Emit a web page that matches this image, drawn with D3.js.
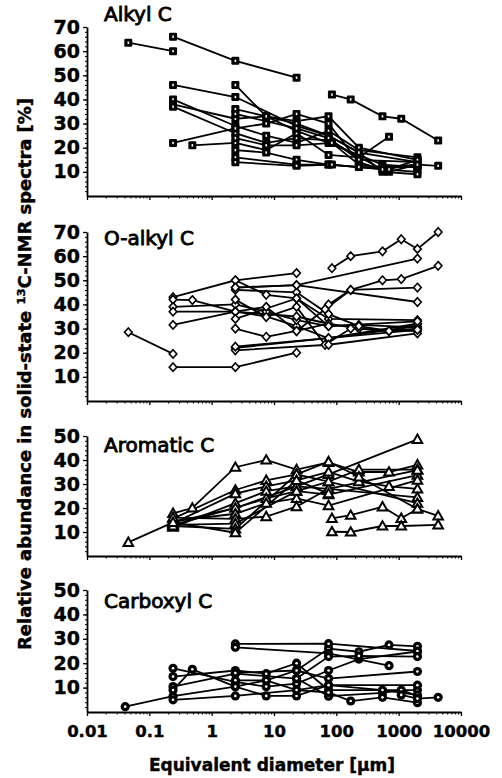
<!DOCTYPE html>
<html>
<head>
<meta charset="utf-8">
<script src="https://cdn.jsdelivr.net/npm/d3@7"></script>
<style>
  body { margin: 0; background: #fff; }
  svg { display: block; }
  text { font-family: "DejaVu Sans", sans-serif; fill: #000; }
</style>
</head>
<body>
<div id="chart"></div>
<script>
// equivalent diameter [µm] vs relative abundance [%], one array per C group, one inner array per study/soil
let alkyl = [
  [[0.046, 63.5], [0.24, 60]],
  [[0.24, 66], [2.4, 56], [23, 49]],
  [[0.24, 46], [2.4, 41], [23, 29], [75, 25], [230, 18], [2000, 14]],
  [[2.4, 46], [7.5, 33], [23, 27], [75, 22], [550, 13], [2000, 12]],
  [[0.24, 40], [2.4, 29], [7.5, 25], [23, 22], [75, 27], [230, 19], [2000, 16]],
  [[0.24, 38], [2.4, 32], [7.5, 33], [23, 31], [75, 33], [230, 20], [2000, 15]],
  [[0.24, 37], [2.4, 26], [7.5, 22], [23, 24], [75, 23], [550, 11], [2000, 10]],
  [[0.24, 22], [2.4, 28], [7.5, 30], [23, 34], [75, 30], [230, 14], [700, 10], [2000, 13]],
  [[0.49, 21], [2.4, 22], [7.5, 19], [23, 26], [75, 17], [230, 16], [700, 24.5]],
  [[2.4, 36], [7.5, 33], [23, 30], [75, 25], [230, 18], [550, 10], [2000, 9]],
  [[2.4, 34], [23, 28], [75, 24], [230, 15], [2000, 14]],
  [[2.4, 24], [7.5, 21], [23, 21], [85, 22], [230, 13], [550, 12], [2000, 13]],
  [[2.4, 19], [7.5, 18], [23, 15], [75, 13], [230, 12], [2000, 12]],
  [[2.4, 16], [23, 13], [75, 13], [230, 12], [700, 11], [2000, 15]],
  [[2.4, 14], [23, 12.5], [85, 13], [550, 11], [2000, 13], [4300, 12.5]],
  [[85, 42], [170, 40], [550, 33], [1100, 32], [4300, 23]]
];

let oAlkyl = [
  [[0.046, 28.5], [0.24, 19.5]],
  [[0.24, 14], [2.4, 14], [23, 20]],
  [[85, 55], [170, 60], [550, 62], [1100, 67], [2000, 63], [4300, 70]],
  [[2.4, 47], [23, 48], [2000, 59]],
  [[75, 40], [170, 46], [550, 50], [1100, 50.5], [4300, 56]],
  [[2.4, 50], [23, 53]],
  [[0.24, 43], [2.4, 50], [7.5, 44], [23, 42.5], [75, 34], [2000, 33.5]],
  [[0.24, 42], [0.49, 41.8], [2.4, 37], [7.5, 35], [23, 31], [75, 26], [2000, 31]],
  [[0.24, 39], [2.4, 40], [7.5, 37], [23, 33.5], [75, 31], [230, 31.5], [2000, 30.5]],
  [[0.24, 37], [2.4, 37], [23, 35], [75, 32], [230, 30], [700, 29], [2000, 30]],
  [[0.24, 31.5], [2.4, 37], [7.5, 39], [23, 29], [66, 38], [170, 46], [2000, 47]],
  [[2.4, 46], [23, 45], [75, 36], [230, 31], [700, 29], [2000, 32]],
  [[2.4, 47], [23, 48], [2000, 41]],
  [[2.4, 42], [7.5, 34.8], [23, 39], [66, 23.3], [170, 30], [2000, 29]],
  [[2.4, 30], [7.5, 26.6], [23, 29], [75, 32]],
  [[2.4, 22], [75, 26], [2000, 32]],
  [[2.4, 21], [75, 23.3], [2000, 28]],
  [[2.4, 22.5], [2000, 29.5]],
  [[2.4, 34], [23, 42.5], [75, 31], [2000, 33]]
];

let aromatic = [
  [[0.046, 5.7], [0.24, 14], [2.4, 20], [23, 29], [75, 34], [2000, 48.6]],
  [[0.24, 17.8], [0.49, 20], [2.4, 37], [7.5, 40], [23, 36], [75, 39], [230, 35], [700, 35], [2000, 38]],
  [[0.24, 15.6], [2.4, 27.5], [7.5, 31.5], [23, 34], [75, 31], [230, 36], [2000, 36]],
  [[0.24, 13.6], [2.4, 26], [7.5, 29], [23, 31.5], [75, 35], [230, 31], [700, 29], [2000, 28]],
  [[0.24, 12], [2.4, 22], [7.5, 27], [23, 29], [75, 28], [2000, 24.4]],
  [[0.24, 13], [2.4, 20], [7.5, 24], [23, 27], [75, 25.6], [2000, 33.7]],
  [[0.24, 14.5], [2.4, 17.6], [7.5, 22], [23, 24], [75, 21], [2000, 31.6]],
  [[0.24, 16], [2.4, 15.5], [7.5, 16.4], [23, 20.6], [75, 28], [2000, 35.8]],
  [[0.24, 13], [2.4, 13.5], [23, 27], [75, 31], [2000, 22]],
  [[0.24, 12.5], [2.4, 11.3], [23, 34], [75, 39.3], [230, 33], [2000, 19.6]],
  [[0.24, 14], [2.4, 9.7], [23, 31.5], [75, 26]],
  [[85, 15.7], [170, 17], [550, 20.5], [1100, 15.7], [2000, 19.6], [4300, 16.7]],
  [[85, 10.1], [170, 10], [550, 12.5], [1100, 12.5], [4300, 13]]
];

let carboxyl = [
  [[0.041, 2.2], [0.24, 6.5], [2.4, 10.4], [7.5, 13], [23, 17], [75, 26], [230, 24.7], [700, 27.5], [2000, 26.9]],
  [[0.24, 17.9], [2.4, 12.3], [7.5, 10.4], [23, 11.6], [75, 17], [230, 21.7], [2000, 24.8]],
  [[0.24, 14.5], [2.4, 17], [7.5, 15.7], [23, 20], [75, 9], [2000, 9]],
  [[0.24, 10.4], [2.4, 15.7], [23, 13.7], [75, 6.5], [550, 7.8], [1100, 9], [2000, 6.5]],
  [[0.24, 9], [0.49, 17.5], [2.4, 10.4], [7.5, 6.6], [23, 6.6], [75, 11], [2000, 11]],
  [[0.24, 5], [2.4, 6.6], [23, 9], [75, 8], [170, 4.5], [550, 6], [2000, 3.8]],
  [[2.4, 27.9], [75, 28], [2000, 25]],
  [[2.4, 26.5], [75, 24], [700, 19]],
  [[2.4, 16], [23, 17], [75, 13.7], [2000, 16.6]],
  [[2.4, 13], [7.5, 13], [23, 9], [75, 11], [550, 9], [2000, 7]],
  [[23, 13.7], [75, 22.7], [230, 23], [2000, 22.7]],
  [[1100, 7], [2000, 5.5], [4300, 6]]
];

let titles = ["Alkyl C", "O-alkyl C", "Aromatic C", "Carboxyl C"];
let yMaxes = [70, 70, 50, 50];
let xTickLabels = ["0.01", "0.1", "1", "10", "100", "1000", "10000"];
let xTickValues = [0.01, 0.1, 1, 10, 100, 1000, 10000];

let width = 502, height = 778;

let svg = d3.select("#chart")
  .append("svg")
  .attr("width", width)
  .attr("height", height);

let x = d3.scaleLog()
  .domain([0.01, 10000])
  .range([87, 461]);

// panel layout: pixel row of 0 and of the top value
let panels = [
  { data: alkyl, marker: "square", bottom: 196, top: 27, titleY: 21 },
  { data: oAlkyl, marker: "diamond", bottom: 401, top: 232, titleY: 245 },
  { data: aromatic, marker: "triangle", bottom: 556, top: 436, titleY: 452 },
  { data: carboxyl, marker: "circle", bottom: 712, top: 590, titleY: 608 }
];

let minorX = [];
[0.01, 0.1, 1, 10, 100, 1000].forEach(d => {
  for (let k = 2; k <= 9; k++) minorX.push(d * k);
});

let line = d3.line();

panels.forEach((p, i) => {
  let yMax = yMaxes[i];
  let y = d3.scaleLinear()
    .domain([0, yMax])
    .range([p.bottom, p.top]);

  // x axis (labels only on the last panel)
  let xa = svg.append("g")
    .attr("transform", `translate(0, ${p.bottom})`)
    .call(d3.axisBottom(x)
      .tickValues(xTickValues)
      .tickSize(4)
      .tickSizeOuter(0)
      .tickPadding(5)
      .tickFormat((d, j) => i === 3 ? xTickLabels[j] : ""));
  xa.select(".domain").attr("stroke-width", 1.8);
  xa.selectAll(".tick line").attr("stroke-width", 1.3);
  xa.selectAll("text")
    .style("font-family", "DejaVu Sans")
    .style("font-size", "16.5px")
    .style("font-weight", "bold")
    .style("stroke", "#000")
    .style("stroke-width", "0.4px")
    .attr("dy", "0.95em");

  svg.append("g")
    .attr("transform", `translate(0, ${p.bottom})`)
    .call(d3.axisBottom(x).tickValues(minorX).tickSize(2.5).tickFormat("").tickSizeOuter(0))
    .call(g => g.select(".domain").remove());

  // y axis
  let ya = svg.append("g")
    .attr("transform", `translate(${x(0.01)}, 0)`)
    .call(d3.axisLeft(y)
      .tickValues(d3.range(10, yMax + 1, 10))
      .tickSize(4)
      .tickSizeOuter(0)
      .tickPadding(3));
  ya.select(".domain").attr("stroke-width", 1.8);
  ya.selectAll(".tick line").attr("stroke-width", 1.3);
  ya.selectAll("text")
    .style("font-family", "DejaVu Sans")
    .style("font-size", "19px")
    .style("font-weight", "bold")
    .style("stroke", "#000")
    .style("stroke-width", "0.4px");

  svg.append("g")
    .attr("transform", `translate(${x(0.01)}, 0)`)
    .call(d3.axisLeft(y).tickValues(d3.range(2, yMax, 2)).tickSize(2).tickFormat(""))
    .call(g => g.select(".domain").remove());

  svg.append("text")
    .attr("x", 104)
    .attr("y", p.titleY)
    .style("font-size", "20px")
    .style("stroke", "#000")
    .style("stroke-width", "0.9px")
    .text(titles[i]);

  let pts = p.data.map(s => s.map(d => [x(d[0]), y(d[1])]));

  svg.append("g")
    .selectAll("path")
    .data(pts)
    .enter()
    .append("path")
    .attr("d", line)
    .attr("fill", "none")
    .attr("stroke", "#000")
    .attr("stroke-width", 1.8);

  let marks = svg.append("g")
    .selectAll("g")
    .data(pts.flat())
    .enter()
    .append("g")
    .attr("transform", d => `translate(${d[0]},${d[1]})`);

  if (p.marker === "square") {
    marks.append("rect")
      .attr("x", -4).attr("y", -4)
      .attr("width", 8).attr("height", 8)
      .attr("rx", 1.2)
      .attr("fill", "#000");
    marks.append("rect")
      .attr("x", -0.8).attr("y", -1.2)
      .attr("width", 1.6).attr("height", 2.4)
      .attr("fill", "#fff");
  } else if (p.marker === "diamond") {
    marks.append("path")
      .attr("d", "M0,-4.2L3.8,0L0,4.2L-3.8,0Z")
      .attr("fill", "#fff")
      .attr("stroke", "#000")
      .attr("stroke-width", 1.6);
  } else if (p.marker === "triangle") {
    marks.append("path")
      .attr("d", "M0,-4.8L4.8,3.6L-4.8,3.6Z")
      .attr("fill", "#fff")
      .attr("stroke", "#000")
      .attr("stroke-width", 2);
  } else {
    marks.append("circle")
      .attr("r", 4.6)
      .attr("fill", "#000");
    marks.append("circle")
      .attr("r", 1.3)
      .attr("fill", "#fff");
  }
});

// axis titles
svg.append("text")
  .attr("x", 272)
  .attr("y", 771)
  .attr("text-anchor", "middle")
  .style("font-size", "17px")
  .style("font-weight", "bold")
  .style("stroke", "#000")
  .style("stroke-width", "0.4px")
  .text("Equivalent diameter [µm]");

let yt = svg.append("text")
  .attr("transform", "translate(31, 374) rotate(-90)")
  .attr("text-anchor", "middle")
  .attr("textLength", 552)
  .attr("lengthAdjust", "spacingAndGlyphs")
  .style("font-size", "17px")
  .style("font-weight", "bold")
  .style("stroke", "#000")
  .style("stroke-width", "0.4px");
yt.append("tspan").text("Relative abundance in solid-state ");
yt.append("tspan").attr("dy", -6).style("font-size", "11px").text("13");
yt.append("tspan").attr("dy", 6).text("C-NMR spectra [%]");
</script>
</body>
</html>
